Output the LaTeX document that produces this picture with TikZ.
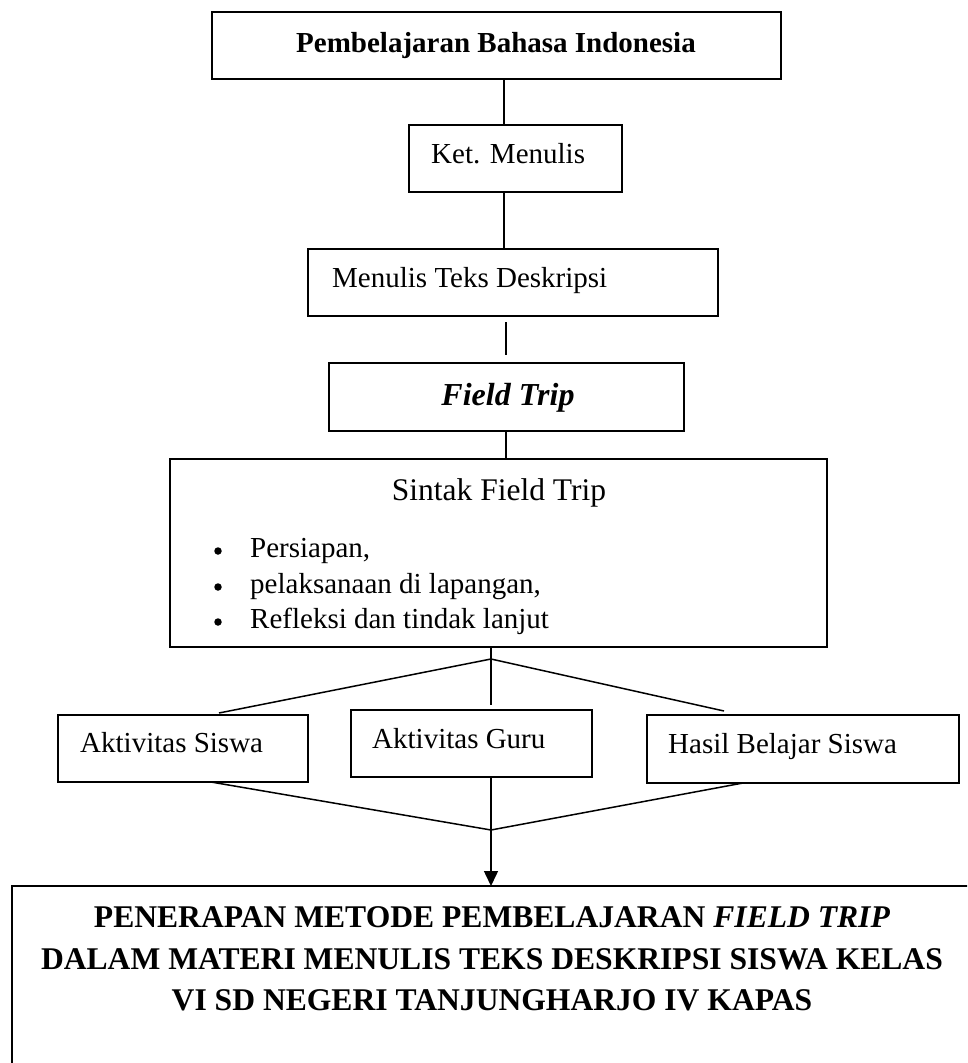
\documentclass[tikz,border=0pt]{standalone}
\usepackage{fontspec}
\setmainfont{Liberation Serif}
\usetikzlibrary{arrows.meta,calc}
\begin{document}
\begin{tikzpicture}[x=1pt,y=-1pt,
  box/.style={draw, line width=1.6pt, inner sep=0pt, outer sep=0pt, anchor=north west},
  txt/.style={inner sep=0pt, font=\fontsize{29}{34}\selectfont},
  dot/.style={circle, fill=black, inner sep=0pt, minimum size=7.5pt},
  conn/.style={line width=1.5pt, line join=round}]
\clip (0,0) rectangle (967,1063);
\fill[white] (0,0) rectangle (967,1063);

% boxes
\node[box, minimum width=569pt, minimum height=67pt] (title) at (212,12) {};
\node[box, minimum width=213pt, minimum height=67pt] (ket) at (409,125) {};
\node[box, minimum width=410pt, minimum height=67pt] (desk) at (308,249) {};
\node[box, minimum width=355pt, minimum height=68pt] (field) at (329,363) {};
\node[box, minimum width=657pt, minimum height=188pt] (sintak) at (170,459) {};
\node[box, minimum width=250pt, minimum height=67pt] (siswa) at (58,715) {};
\node[box, minimum width=241pt, minimum height=67pt] (guru) at (351,710) {};
\node[box, minimum width=312pt, minimum height=68pt] (hasil) at (647,715) {};
\node[box, minimum width=1000pt, minimum height=250pt] (result) at (12,886) {};

% texts
\node[txt, anchor=base, font=\bfseries\fontsize{29}{34}\selectfont] (titletxt) at (496,52) {Pembelajaran Bahasa Indonesia};
\node[txt, anchor=base west] (kettxt) at (431,163) {Ket. Menulis};
\node[txt, anchor=base west] (desktxt) at (332,287) {Menulis Teks Deskripsi};
\node[txt, anchor=base, font=\bfseries\itshape\fontsize{32}{36}\selectfont] (fieldtxt) at (508,405) {Field Trip};
\node[txt, anchor=base, font=\fontsize{31.5}{36}\selectfont] (sintaktxt) at (499,500) {Sintak Field Trip};
\node[dot] (b1) at (218,551) {};
\node[dot] (b2) at (218,587) {};
\node[dot] (b3) at (218,622) {};
\node[txt, anchor=base west] (i1) at (250,557) {Persiapan,};
\node[txt, anchor=base west] (i2) at (250,593) {pelaksanaan di lapangan,};
\node[txt, anchor=base west] (i3) at (250,628) {Refleksi dan tindak lanjut};
\node[txt, anchor=base west] (siswatxt) at (80,752) {Aktivitas Siswa};
\node[txt, anchor=base west] (gurutxt) at (372,748) {Aktivitas Guru};
\node[txt, anchor=base west] (hasiltxt) at (668,753) {Hasil Belajar Siswa};
\node[txt, anchor=base, font=\bfseries\fontsize{31.6}{36}\selectfont] (r1) at (492,927) {PENERAPAN METODE PEMBELAJARAN \textit{FIELD TRIP}};
\node[txt, anchor=base, font=\bfseries\fontsize{31.6}{36}\selectfont] (r2) at (492,969) {DALAM MATERI MENULIS TEKS DESKRIPSI SISWA KELAS};
\node[txt, anchor=base, font=\bfseries\fontsize{31.6}{36}\selectfont] (r3) at (492,1010) {VI SD NEGERI TANJUNGHARJO IV KAPAS};

% connectors
\coordinate (xa) at (504,0);
\coordinate (xb) at (506,0);
\coordinate (xc) at (491,0);
\coordinate (j1) at (491,659);
\coordinate (j2) at (491,830);
\coordinate (gapG) at (491,705);
\coordinate (fanL) at (219,713);
\coordinate (fanR) at (724,711);
\coordinate (lowL) at (211,782);
\coordinate (lowR) at (743,783);

\draw[conn] (title.south -| xa) -- (ket.north -| xa);
\draw[conn] (ket.south -| xa) -- (desk.north -| xa);
\draw[conn] ($(desk.south -| xb)+(0,6)$) -- ($(field.north -| xb)+(0,-8)$);
\draw[conn] (field.south -| xb) -- (sintak.north -| xb);
\draw[conn] (sintak.south -| xc) -- (gapG);
\draw[conn] (fanL) -- (j1) -- (fanR);
\draw[conn] (lowL) -- (j2) -- (lowR);
\draw[conn, -{Triangle[length=15pt,width=14pt]}] (guru.south -| xc) -- (result.north -| xc);
\end{tikzpicture}
\end{document}
